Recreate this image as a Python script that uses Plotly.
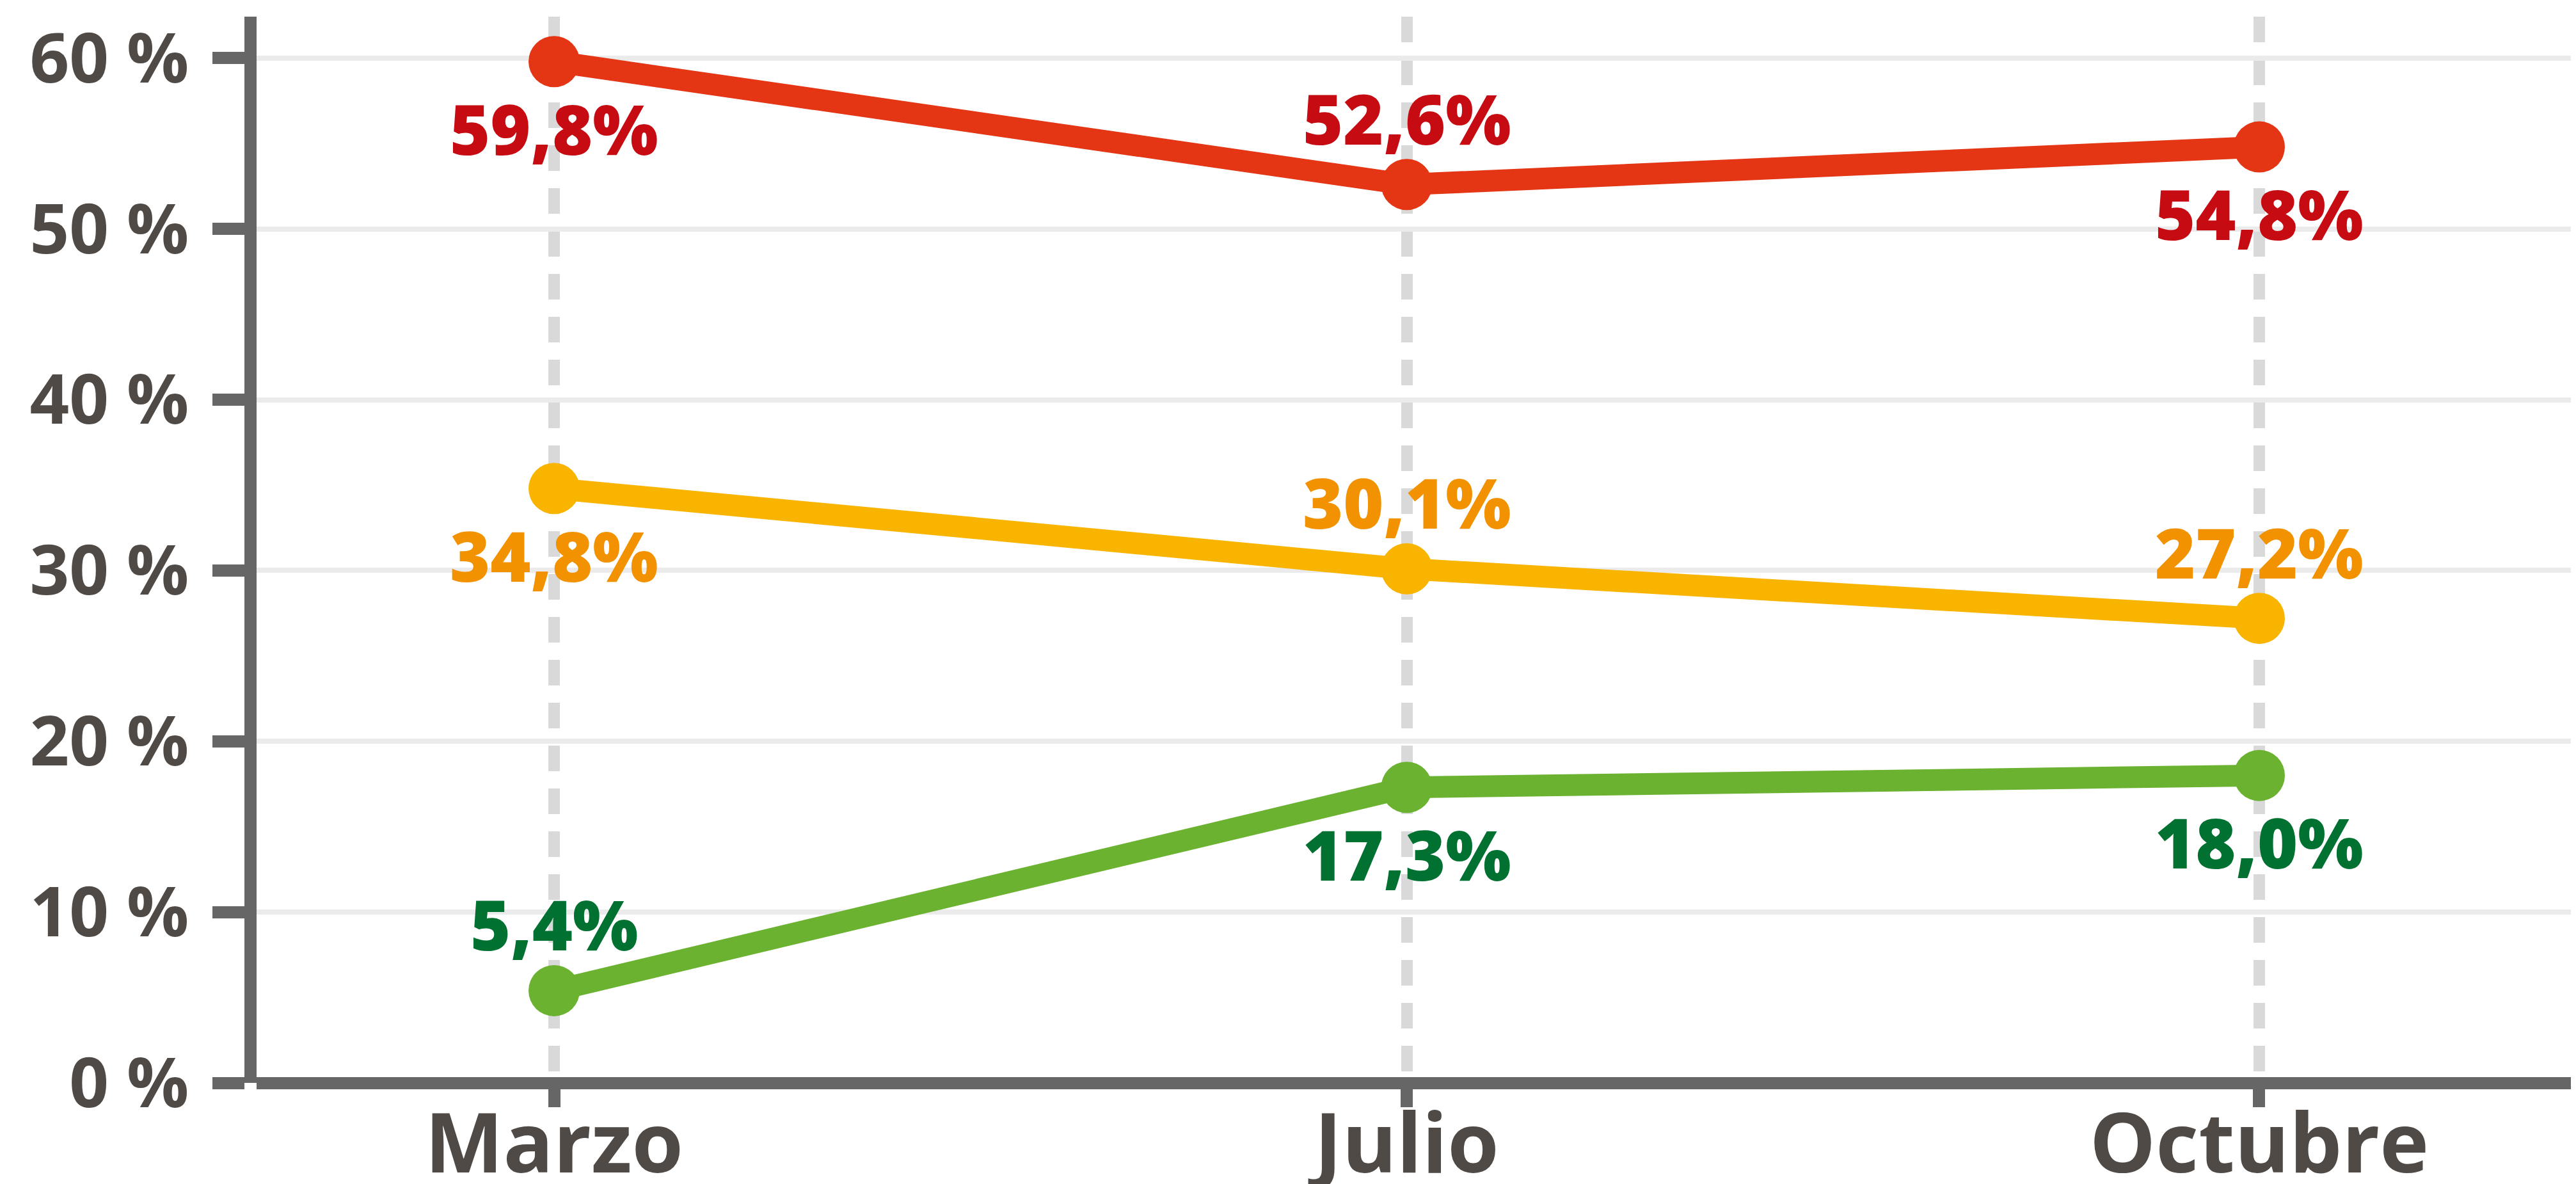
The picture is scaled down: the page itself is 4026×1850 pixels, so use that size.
import plotly.graph_objects as go

MESES = ["Marzo", "Julio", "Octubre"]

Y_TICKS = [0, 10, 20, 30, 40, 50, 60]
Y_TICK_TEXT = ["0 %", "10 %", "20 %", "30 %", "40 %", "50 %", "60 %"]

ROJO = [59.8, 52.6, 54.8]
NARANJA = [34.8, 30.1, 27.2]
VERDE = [5.4, 17.3, 18.0]

TEXT_GRAY = "#504a46"
AXIS_GRAY = "#666666"
FONT = "Open Sans"

# (valores, color de línea, color de etiqueta, etiqueta arriba/abajo)
SERIES = [
    (ROJO, "#e43514", "#c60c12", ["below", "above", "below"]),
    (NARANJA, "#f9b400", "#f29200", ["below", "above", "above"]),
    (VERDE, "#6ab22f", "#007130", ["above", "below", "below"]),
]


def fmt(v):
    return f"{v:.1f}%".replace(".", ",")


fig = go.Figure()
annotations = []
for values, line_color, label_color, where in SERIES:
    fig.add_trace(go.Scatter(
        x=MESES,
        y=values,
        mode="lines+markers",
        line=dict(color=line_color, width=34),
        marker=dict(color=line_color, size=80),
        showlegend=False,
        hoverinfo="skip",
    ))
    for mes, v, w in zip(MESES, values, where):
        annotations.append(dict(
            x=mes,
            y=v,
            text=fmt(v),
            showarrow=False,
            xanchor="center",
            yanchor="middle",
            yshift=104 if w == "above" else -104,
            font=dict(family=FONT, size=108, color=label_color, weight=800),
        ))

fig.update_layout(
    width=4026,
    height=1850,
    margin=dict(l=393, r=0, t=18, b=166, autoexpand=False),
    plot_bgcolor="white",
    paper_bgcolor="white",
    annotations=annotations,
    xaxis=dict(
        type="category",
        range=[-0.349, 2.3775],
        automargin=False,
        showline=False,
        ticks="outside",
        ticklen=37,
        tickwidth=19,
        tickcolor=AXIS_GRAY,
        ticklabelstandoff=-54,
        showgrid=True,
        gridcolor="#d9d9d9",
        gridwidth=18,
        griddash="40px,27px",
        tickfont=dict(family=FONT, size=130, color=TEXT_GRAY, weight=700),
    ),
    yaxis=dict(
        range=[0, 62.43],
        automargin=False,
        tickvals=Y_TICKS,
        ticktext=Y_TICK_TEXT,
        showline=True,
        linewidth=19,
        linecolor=AXIS_GRAY,
        ticks="outside",
        ticklen=50,
        tickwidth=19,
        tickcolor=AXIS_GRAY,
        ticklabelstandoff=15,
        showgrid=True,
        gridcolor="#ebebeb",
        gridwidth=8,
        zeroline=True,
        zerolinewidth=19,
        zerolinecolor=AXIS_GRAY,
        tickfont=dict(family=FONT, size=108, color=TEXT_GRAY, weight=700),
    ),
)

fig.write_html("out.html")
